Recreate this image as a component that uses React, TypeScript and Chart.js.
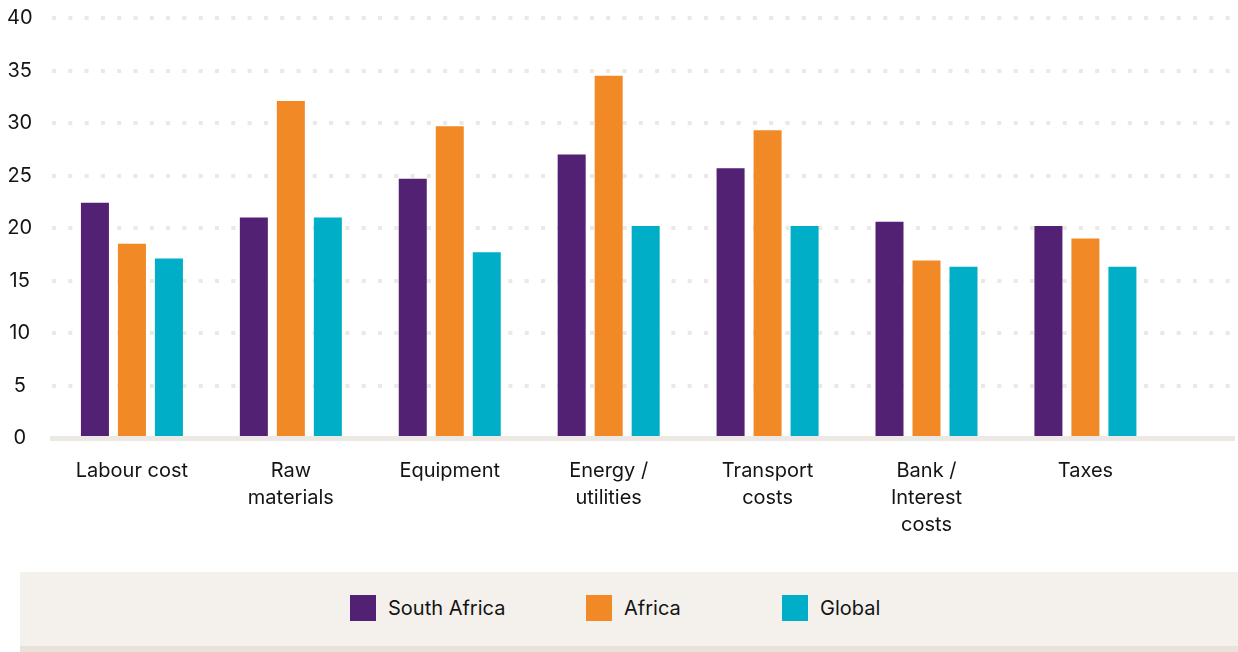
import React, { useEffect, useRef } from "react";
import { Chart, registerables } from "chart.js";

Chart.register(...registerables);

const categories: (string | string[])[] = [
  "Labour cost",
  ["Raw", "materials"],
  "Equipment",
  ["Energy /", "utilities"],
  ["Transport", "costs"],
  ["Bank /", "Interest", "costs"],
  "Taxes",
];
const southAfrica = [22.4, 21.0, 24.7, 27.0, 25.7, 20.6, 20.2];
const africa = [18.5, 32.1, 29.7, 34.5, 29.3, 16.9, 19.0];
const globalVals = [17.1, 21.0, 17.7, 20.2, 20.2, 16.3, 16.3];
const seriesNames = ["South Africa", "Africa", "Global"];
const seriesColors = ["#522173", "#f18926", "#00aec7"];
const yTicks = [0, 5, 10, 15, 20, 25, 30, 35, 40];

const FONT = "Inter, 'Noto Sans', sans-serif";
const TEXT = "#141414";

export default function App() {
  const canvasRef = useRef<HTMLCanvasElement | null>(null);

  useEffect(() => {
    const canvas = canvasRef.current;
    if (!canvas) return;
    const series = [southAfrica, africa, globalVals];
    const chart = new Chart(canvas, {
      type: "bar",
      data: {
        datasets: series.map((vals, s) => ({
          label: seriesNames[s],
          data: vals.map((v, i) => ({ x: i, y: v })),
          backgroundColor: seriesColors[s],
          borderWidth: 0,
          categoryPercentage: 0.6985,
          barPercentage: 0.757,
        })),
      },
      options: {
        animation: false,
        responsive: false,
        maintainAspectRatio: false,
        layout: { padding: { top: 0, right: 4, bottom: 0, left: 0 } },
        plugins: {
          legend: { display: false },
          tooltip: { enabled: false },
        },
        scales: {
          x: {
            type: "linear",
            offset: false,
            min: -0.503,
            max: 6.935,
            afterBuildTicks: (axis: any) => {
              axis.ticks = categories.map((_, i) => ({ value: i }));
            },
            afterFit: (axis: any) => {
              axis.height = 122;
            },
            grid: { display: false, drawTicks: false, offset: false },
            border: { display: true, color: "#ece8e3", width: 5 },
            ticks: {
              autoSkip: false,
              maxRotation: 0,
              padding: 19,
              color: TEXT,
              font: { family: FONT, size: 20, lineHeight: 1.35 },
              callback: (value: any) => categories[Math.round(Number(value))] ?? "",
            },
          },
          y: {
            min: 0,
            max: 40,
            afterBuildTicks: (axis: any) => {
              axis.ticks = yTicks.map((v) => ({ value: v }));
            },
            afterFit: (axis: any) => {
              axis.width = 52;
              axis.paddingTop = 18;
              axis.paddingBottom = 12;
            },
            border: { display: false, dash: [4, 12.3] },
            grid: {
              drawTicks: false,
              lineWidth: 4,
              color: (ctx: any) =>
                ctx.tick && ctx.tick.value === 0 ? "rgba(0,0,0,0)" : "#ece8e3",
            },
            ticks: {
              crossAlign: "center",
              padding: 19.5,
              color: TEXT,
              font: { family: FONT, size: 20 },
            },
          },
        },
      } as any,
    });
    return () => chart.destroy();
  }, []);

  const legendPos = [350, 586, 782];

  return (
    <div
      style={{
        position: "absolute",
        left: 0,
        top: 0,
        width: 1238,
        height: 652,
        background: "#ffffff",
        fontFamily: FONT,
      }}
    >
      <canvas
        ref={canvasRef}
        width={1238}
        height={560}
        style={{ position: "absolute", left: 0, top: 0, width: 1238, height: 560 }}
      />
      <div
        style={{
          position: "absolute",
          left: 20,
          top: 572,
          width: 1218,
          height: 74,
          background: "#f4f1ed",
          borderBottom: "6px solid #e8e2db",
        }}
      />
      {seriesNames.map((name, i) => (
        <div
          key={name}
          style={{
            position: "absolute",
            left: legendPos[i],
            top: 595,
            height: 26,
            display: "flex",
            alignItems: "center",
          }}
        >
          <div style={{ width: 26, height: 26, background: seriesColors[i] }} />
          <span
            style={{
              marginLeft: 12,
              fontSize: 20,
              color: TEXT,
              lineHeight: "26px",
              whiteSpace: "nowrap",
            }}
          >
            {name}
          </span>
        </div>
      ))}
    </div>
  );
}
